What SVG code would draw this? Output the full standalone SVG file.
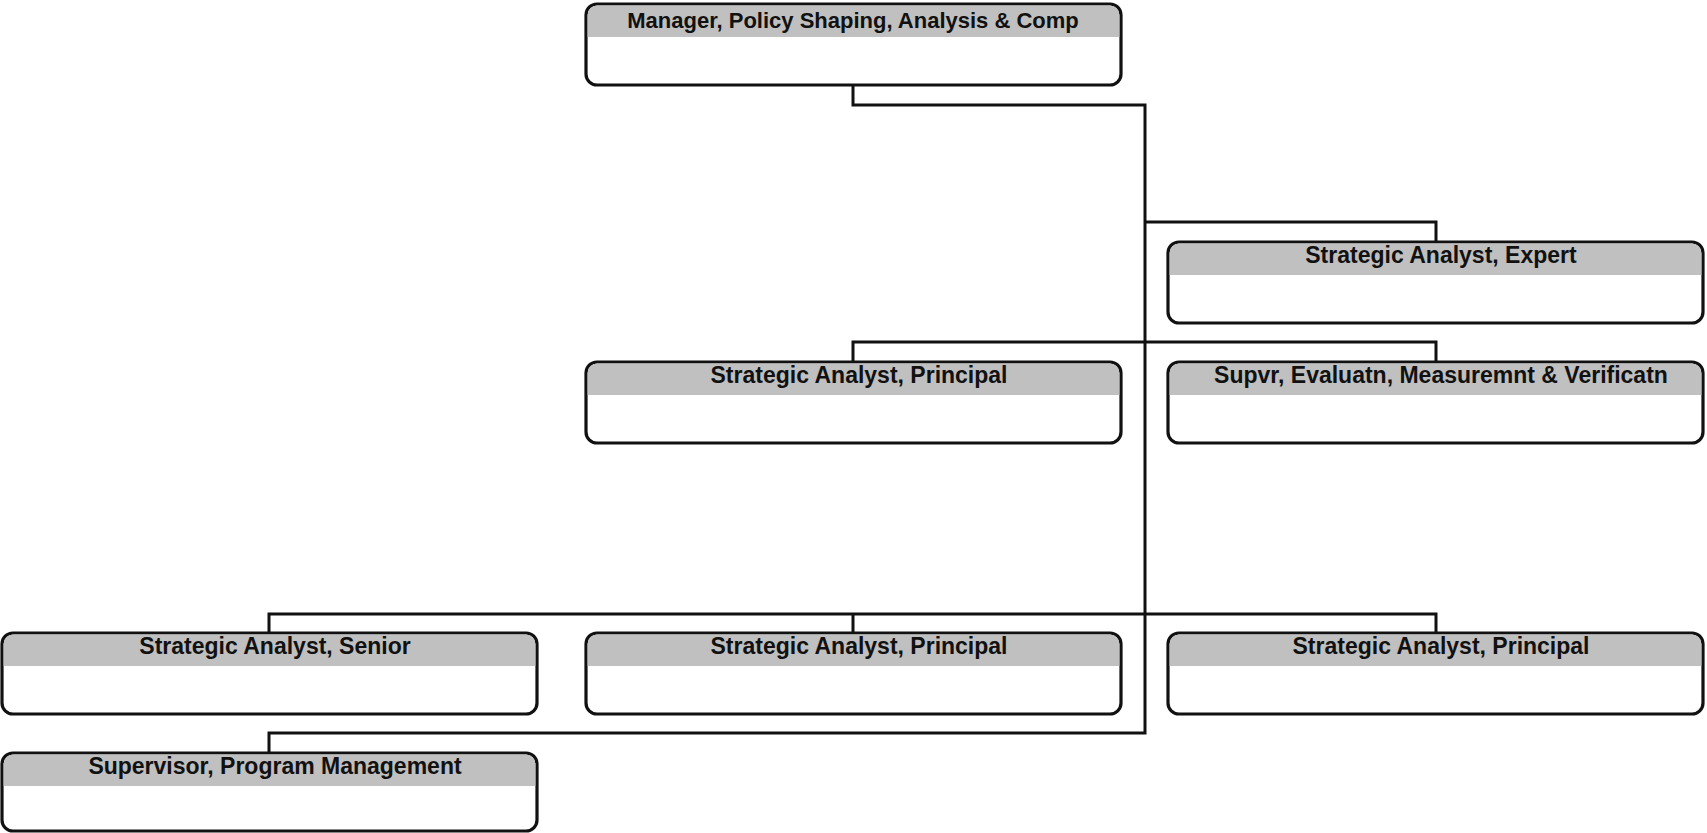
<svg xmlns="http://www.w3.org/2000/svg" width="1707" height="833" viewBox="0 0 1707 833">
  <style>
    .frame { fill: #ffffff; stroke: #111111; stroke-width: 3.2; }
    .band { fill: #c0c0c0; stroke: none; }
    .title { font-family: "Liberation Sans", Arial, sans-serif; font-weight: bold; font-size: 23px; fill: #111111; text-anchor: middle; }
    .title.head { font-size: 22px; }
    .link { fill: none; stroke: #111111; stroke-width: 3; stroke-linejoin: miter; }
  </style>

  <!-- reporting lines -->
  <g id="connectors">
    <path class="link" d="M853 85 V105 H1145 V733 H269 V753"/>
    <path class="link" d="M1145 222 H1436 V242"/>
    <path class="link" d="M853 362 V342 H1436 V362"/>
    <path class="link" d="M269 633 V614 H1436 V633"/>
    <path class="link" d="M853 614 V633"/>
  </g>

  <g id="node-manager">
    <rect class="frame" x="586" y="4" width="535" height="81" rx="11"/>
    <path class="band" d="M587.6 37 V15 A9.4 9.4 0 0 1 597 5.6 H1110 A9.4 9.4 0 0 1 1119.4 15 V37 Z"/>
    <text class="title head" x="853" y="28">Manager, Policy Shaping, Analysis &amp; Comp</text>
  </g>

  <g id="node-expert">
    <rect class="frame" x="1168" y="242" width="535" height="81" rx="11"/>
    <path class="band" d="M1169.6 275 V253 A9.4 9.4 0 0 1 1179 243.6 H1692 A9.4 9.4 0 0 1 1701.4 253 V275 Z"/>
    <text class="title" x="1441" y="263">Strategic Analyst, Expert</text>
  </g>

  <g id="node-principal-1">
    <rect class="frame" x="586" y="362" width="535" height="81" rx="11"/>
    <path class="band" d="M587.6 395 V373 A9.4 9.4 0 0 1 597 363.6 H1110 A9.4 9.4 0 0 1 1119.4 373 V395 Z"/>
    <text class="title" x="859" y="383">Strategic Analyst, Principal</text>
  </g>

  <g id="node-supvr-emv">
    <rect class="frame" x="1168" y="362" width="535" height="81" rx="11"/>
    <path class="band" d="M1169.6 395 V373 A9.4 9.4 0 0 1 1179 363.6 H1692 A9.4 9.4 0 0 1 1701.4 373 V395 Z"/>
    <text class="title" x="1441" y="383">Supvr, Evaluatn, Measuremnt &amp; Verificatn</text>
  </g>

  <g id="node-senior">
    <rect class="frame" x="2" y="633" width="535" height="81" rx="11"/>
    <path class="band" d="M3.6 666 V644 A9.4 9.4 0 0 1 13 634.6 H526 A9.4 9.4 0 0 1 535.4 644 V666 Z"/>
    <text class="title" x="275" y="654">Strategic Analyst, Senior</text>
  </g>

  <g id="node-principal-2">
    <rect class="frame" x="586" y="633" width="535" height="81" rx="11"/>
    <path class="band" d="M587.6 666 V644 A9.4 9.4 0 0 1 597 634.6 H1110 A9.4 9.4 0 0 1 1119.4 644 V666 Z"/>
    <text class="title" x="859" y="654">Strategic Analyst, Principal</text>
  </g>

  <g id="node-principal-3">
    <rect class="frame" x="1168" y="633" width="535" height="81" rx="11"/>
    <path class="band" d="M1169.6 666 V644 A9.4 9.4 0 0 1 1179 634.6 H1692 A9.4 9.4 0 0 1 1701.4 644 V666 Z"/>
    <text class="title" x="1441" y="654">Strategic Analyst, Principal</text>
  </g>

  <g id="node-supervisor-pm">
    <rect class="frame" x="2" y="753" width="535" height="78" rx="11"/>
    <path class="band" d="M3.6 786 V764 A9.4 9.4 0 0 1 13 754.6 H526 A9.4 9.4 0 0 1 535.4 764 V786 Z"/>
    <text class="title" x="275" y="774">Supervisor, Program Management</text>
  </g>
</svg>
